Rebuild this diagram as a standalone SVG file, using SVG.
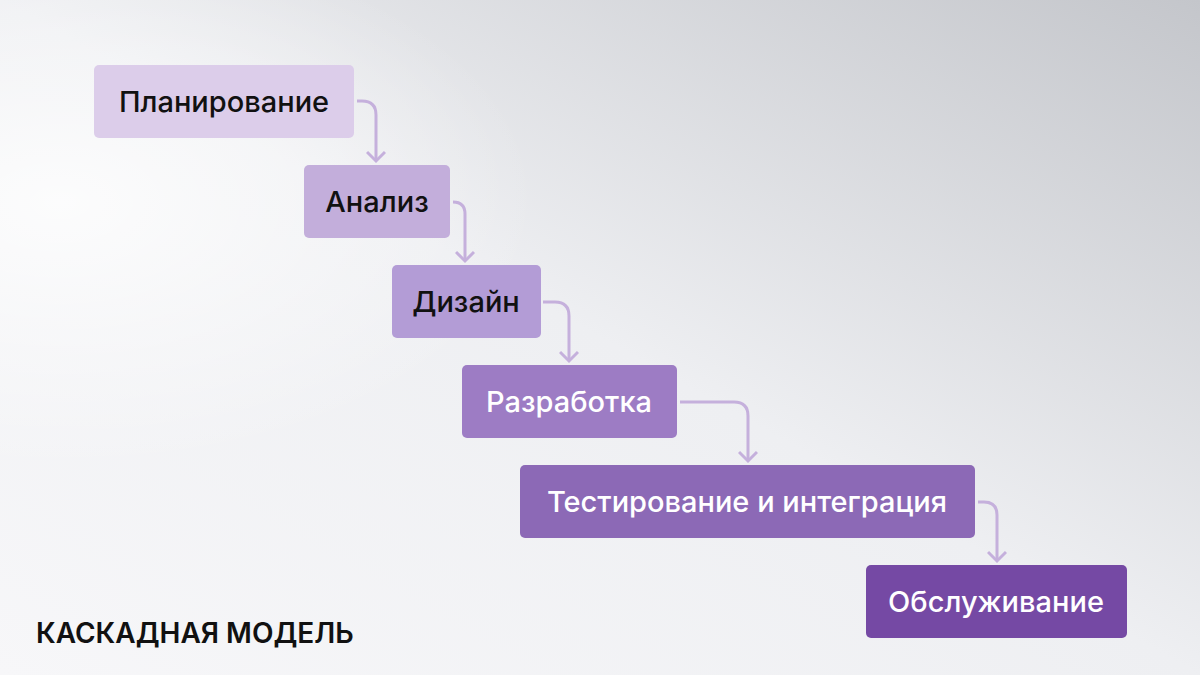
<svg xmlns="http://www.w3.org/2000/svg" width="1200" height="675" viewBox="0 0 1200 675">
<defs>
<linearGradient id="bg" x1="0" y1="1" x2="1" y2="0">
<stop offset="0" stop-color="#f7f7f9"/><stop offset="0.5" stop-color="#eeeff2"/><stop offset="1" stop-color="#c4c6cb"/>
</linearGradient>
<radialGradient id="glow" cx="0.05" cy="0.3" r="0.4">
<stop offset="0" stop-color="#ffffff" stop-opacity="0.8"/><stop offset="1" stop-color="#ffffff" stop-opacity="0"/>
</radialGradient>
<marker id="ah" viewBox="0 0 20 20" refX="16" refY="10" markerWidth="20" markerHeight="20" markerUnits="userSpaceOnUse" orient="auto">
<path d="M7 1 L16 10 L7 19" fill="none" stroke="#c5b0dc" stroke-width="3"/>
</marker>
<style>
.lbl{font-family:"Inter","Noto Sans",sans-serif;font-size:29px;font-weight:500;text-anchor:middle;dominant-baseline:central}
.dk{fill:#111}.wt{fill:#fff}
.c{fill:none;stroke:#c5b0dc;stroke-width:3}
</style>
</defs>
<rect width="1200" height="675" fill="url(#bg)"/>
<rect width="1200" height="675" fill="url(#glow)"/>
<g id="connectors">
<path class="c" d="M357 101 H362 Q376 101 376 115 V161" marker-end="url(#ah)"/>
<path class="c" d="M453 202 Q465 202 465 214 V261" marker-end="url(#ah)"/>
<path class="c" d="M543 302 H555 Q569 302 569 316 V361" marker-end="url(#ah)"/>
<path class="c" d="M680 402 H734 Q748 402 748 416 V461" marker-end="url(#ah)"/>
<path class="c" d="M978 502 H984 Q997 502 997 515 V561" marker-end="url(#ah)"/>
</g>
<g id="n1"><rect x="94" y="65" width="260" height="73" rx="5" fill="#dccdea"/><text class="lbl dk" x="224" y="101">Планирование</text></g>
<g id="n2"><rect x="304" y="165" width="146" height="73" rx="5" fill="#c3aedb"/><text class="lbl dk" x="377" y="201">Анализ</text></g>
<g id="n3"><rect x="392" y="265" width="149" height="73" rx="5" fill="#b39cd6"/><text class="lbl dk" x="466" y="301">Дизайн</text></g>
<g id="n4"><rect x="462" y="365" width="215" height="73" rx="5" fill="#9d7cc4"/><text class="lbl wt" x="569" y="401">Разработка</text></g>
<g id="n5"><rect x="520" y="465" width="455" height="73" rx="5" fill="#8c69b6"/><text class="lbl wt" x="747" y="501">Тестирование и интеграция</text></g>
<g id="n6"><rect x="866" y="565" width="261" height="73" rx="5" fill="#7549a4"/><text class="lbl wt" x="996" y="601">Обслуживание</text></g>
<text x="36" y="643" font-family="Inter,'Noto Sans',sans-serif" font-size="28" font-weight="600" fill="#111">КАСКАДНАЯ МОДЕЛЬ</text>
</svg>
